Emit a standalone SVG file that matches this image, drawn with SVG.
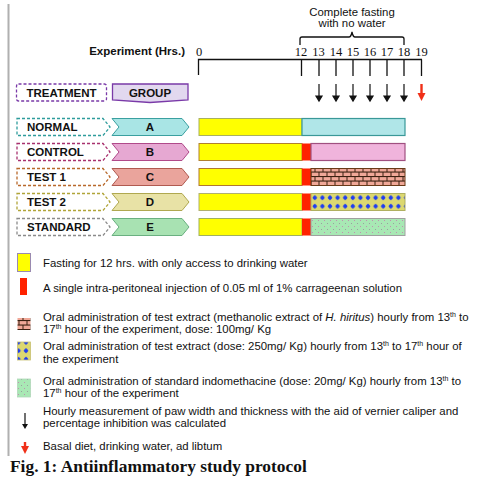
<svg xmlns="http://www.w3.org/2000/svg" width="481" height="484" viewBox="0 0 481 484">
<style>
.sans{font-family:"Liberation Sans",Arial,sans-serif;fill:#111}
.lbl{font-family:"Liberation Sans",Arial,sans-serif;font-weight:bold;font-size:11.5px;fill:#111}
.num{font-family:"Liberation Serif","Times New Roman",serif;font-size:12.5px;fill:#111;text-anchor:middle}
.leg{font-family:"Liberation Sans",Arial,sans-serif;font-size:11.4px;fill:#111}
.tl{stroke:#111;stroke-width:1.3;fill:none}
.dash{fill:#fff;stroke-width:1.3;stroke-dasharray:3,2}
</style>
<defs>
<pattern id="brick" width="8" height="9" patternUnits="userSpaceOnUse" x="311" y="118">
<rect width="8" height="9" fill="#3a2010"/>
<rect x="0.5" y="0.6" width="7" height="3.4" fill="#f0a898"/>
<rect x="-3.5" y="5.1" width="7" height="3.4" fill="#f0a898"/>
<rect x="4.5" y="5.1" width="7" height="3.4" fill="#f0a898"/>
</pattern>
<pattern id="dots" width="7.6" height="8.5" patternUnits="userSpaceOnUse" x="311" y="193.5">
<rect width="7.6" height="8.5" fill="#dcd870"/>
<path d="M3.8,1.6 L6.2,4.2 L3.8,6.8 L1.4,4.2 Z" fill="#1e3cf0"/>
<circle cx="3.8" cy="4.2" r="1.8" fill="#1e3cf0"/>
</pattern>
<pattern id="speck" width="6" height="6" patternUnits="userSpaceOnUse" x="311" y="219">
<rect width="6" height="6" fill="#a8e8b4"/>
<rect x="1" y="1" width="1" height="1" fill="#c090b0"/>
<rect x="4" y="4" width="1" height="1" fill="#9aa0a0"/>
</pattern>
</defs>

<line x1="8.5" y1="4" x2="8.5" y2="456" stroke="#b0b0b0" stroke-width="2"/>

<g id="header">
<text class="sans" x="352" y="16" font-size="11.4" text-anchor="middle">Complete fasting</text>
<text class="sans" x="352" y="27" font-size="11.4" text-anchor="middle">with no water</text>
<path d="M300,45 V39 Q300,37 302,37 H349 Q351,37 352,32 Q353,37 355,37 H402 Q404,37 404,39 V45" class="tl" stroke-width="1.2"/>
<text class="lbl" x="185" y="55" text-anchor="end">Experiment (Hrs.)</text>
<text class="num" x="199" y="56">0</text>
<text class="num" x="301" y="56">12</text>
<text class="num" x="318.5" y="56">13</text>
<text class="num" x="336" y="56">14</text>
<text class="num" x="353" y="56">15</text>
<text class="num" x="370" y="56">16</text>
<text class="num" x="387" y="56">17</text>
<text class="num" x="404" y="56">18</text>
<text class="num" x="421.5" y="56">19</text>
</g>

<g id="connectors">
<path class="tl" d="M198.5,75 V59.5 H422 M301.5,59.5 V76 M319,59.5 V76 M336,59.5 V76 M353,59.5 V76 M370,59.5 V76 M387,59.5 V76 M404,59.5 V76 M421.5,59.5 V76"/>
<g stroke="#111" stroke-width="1.2" fill="#111">
<line x1="319" y1="84" x2="319" y2="97"/><path d="M316,96 L322,96 L319,101 Z"/>
<line x1="336" y1="84" x2="336" y2="97"/><path d="M333,96 L339,96 L336,101 Z"/>
<line x1="353" y1="84" x2="353" y2="97"/><path d="M350,96 L356,96 L353,101 Z"/>
<line x1="370" y1="84" x2="370" y2="97"/><path d="M367,96 L373,96 L370,101 Z"/>
<line x1="387" y1="84" x2="387" y2="97"/><path d="M384,96 L390,96 L387,101 Z"/>
<line x1="404" y1="84" x2="404" y2="97"/><path d="M401,96 L407,96 L404,101 Z"/>
</g>
<g stroke="#f03018" fill="#f03018">
<line x1="421.5" y1="84" x2="421.5" y2="94" stroke-width="2.4"/><path d="M417.5,93 L425.5,93 L421.5,101 Z" stroke="none"/>
</g>
</g>

<g id="treatment-header">
<rect x="16.5" y="84" width="90" height="17" rx="2" class="dash" stroke="#7a3aa8"/>
<text class="lbl" x="61.5" y="97" text-anchor="middle">TREATMENT</text>
</g>
<g id="group-header">
<path d="M112.5,84 H188 V100 L150,102.5 L112.5,100 Z" fill="#e2d8ef" stroke="#7a3aa8" stroke-width="1.3"/>
<text class="lbl" x="150" y="97" text-anchor="middle">GROUP</text>
</g>

<g id="row-normal">
<path d="M17,118.5 H103 L110,127 L103,135.5 H17 Z" class="dash" stroke="#2e9c9c"/>
<text class="lbl" x="27" y="131">NORMAL</text>
<path d="M112,118.5 H182 L189,127 L182,135.5 H112 L119,127 Z" fill="#a9e5e5" stroke="#3aa0a0" stroke-width="1"/>
<text class="lbl" x="150" y="131" text-anchor="middle">A</text>
<rect x="199" y="118.5" width="103" height="17" fill="#ffff00" stroke="#a8b060" stroke-width="1"/>
<rect x="302" y="118.5" width="103" height="17" fill="#b0e6e8" stroke="#3a9898" stroke-width="1.2"/>
</g>

<g id="row-control">
<path d="M17,143.5 H103 L110,152 L103,160.5 H17 Z" class="dash" stroke="#a8306e"/>
<text class="lbl" x="27" y="156">CONTROL</text>
<path d="M112,143.5 H182 L189,152 L182,160.5 H112 L119,152 Z" fill="#e6a8d2" stroke="#b04a8a" stroke-width="1"/>
<text class="lbl" x="150" y="156" text-anchor="middle">B</text>
<rect x="199" y="143.5" width="103" height="17" fill="#ffff00" stroke="#b08030" stroke-width="1"/>
<rect x="302" y="143.5" width="9" height="17" fill="#ff2200"/>
<rect x="311" y="143.5" width="94" height="17" fill="#f0b4dc" stroke="#a05080" stroke-width="1.2"/>
</g>

<g id="row-test1">
<path d="M17,168.5 H103 L110,177 L103,185.5 H17 Z" class="dash" stroke="#b8682a"/>
<text class="lbl" x="27" y="181">TEST 1</text>
<path d="M112,168.5 H182 L189,177 L182,185.5 H112 L119,177 Z" fill="#eaa49c" stroke="#b05a50" stroke-width="1"/>
<text class="lbl" x="150" y="181" text-anchor="middle">C</text>
<rect x="199" y="168.5" width="103" height="17" fill="#ffff00" stroke="#b07830" stroke-width="1"/>
<rect x="302" y="168.5" width="9" height="17" fill="#ff2200"/>
<rect x="311" y="168.5" width="94" height="17" fill="url(#brick)" stroke="#6a3a18" stroke-width="1"/>
</g>

<g id="row-test2">
<path d="M17,193.5 H103 L110,202 L103,210.5 H17 Z" class="dash" stroke="#b0a438"/>
<text class="lbl" x="27" y="206">TEST 2</text>
<path d="M112,193.5 H182 L189,202 L182,210.5 H112 L119,202 Z" fill="#e8e2a6" stroke="#b0a850" stroke-width="1"/>
<text class="lbl" x="150" y="206" text-anchor="middle">D</text>
<rect x="199" y="193.5" width="103" height="17" fill="#ffff00" stroke="#b0b070" stroke-width="1"/>
<rect x="302" y="193.5" width="9" height="17" fill="#ff2200"/>
<rect x="311" y="193.5" width="94" height="17" fill="url(#dots)" stroke="#b0b060" stroke-width="1"/>
</g>

<g id="row-standard">
<path d="M17,218.5 H103 L110,227 L103,235.5 H17 Z" class="dash" stroke="#8a8a8a"/>
<text class="lbl" x="27" y="231">STANDARD</text>
<path d="M112,218.5 H182 L189,227 L182,235.5 H112 L119,227 Z" fill="#a8e2b2" stroke="#6ab080" stroke-width="1"/>
<text class="lbl" x="150" y="231" text-anchor="middle">E</text>
<rect x="199" y="218.5" width="103" height="17" fill="#ffff00" stroke="#a0b060" stroke-width="1"/>
<rect x="302" y="218.5" width="9" height="17" fill="#ff2200"/>
<rect x="311" y="218.5" width="94" height="17" fill="url(#speck)" stroke="#a0a0a0" stroke-width="1"/>
</g>

<g id="legend">
<rect x="17.5" y="253.5" width="13" height="18" fill="#ffff00" stroke="#9a8ab0" stroke-width="1"/>
<text class="leg" x="43" y="267">Fasting for 12 hrs. with only access to drinking water</text>
<rect x="20" y="278" width="7" height="17" fill="#ff2200"/>
<text class="leg" x="43" y="292">A single intra-peritoneal injection of 0.05 ml of 1% carrageenan solution</text>
<rect x="17.5" y="318" width="13" height="12" fill="url(#brick)"/>
<text class="leg" x="43" y="321">Oral administration of test extract (methanolic extract of <tspan font-style="italic">H. hiritus</tspan>) hourly from 13<tspan font-size="7" dy="-4">th</tspan><tspan dy="4"> to</tspan></text>
<text class="leg" x="43" y="333">17<tspan font-size="7" dy="-4">th</tspan><tspan dy="4"> hour of the experiment, dose: 100mg/ Kg</tspan></text>
<rect x="17.5" y="342" width="13" height="18" fill="url(#dots)" stroke="#c8c070" stroke-width="0.8"/>
<text class="leg" x="43" y="350">Oral administration of test extract (dose: 250mg/ Kg) hourly from 13<tspan font-size="7" dy="-4">th</tspan><tspan dy="4"> to 17</tspan><tspan font-size="7" dy="-4">th</tspan><tspan dy="4"> hour of</tspan></text>
<text class="leg" x="43" y="363">the experiment</text>
<rect x="17.5" y="379" width="13" height="18" fill="url(#speck)" stroke="#b0d8b8" stroke-width="0.8"/>
<text class="leg" x="43" y="385">Oral administration of standard indomethacine (dose: 20mg/ Kg) hourly from 13<tspan font-size="7" dy="-4">th</tspan><tspan dy="4"> to</tspan></text>
<text class="leg" x="43" y="397">17<tspan font-size="7" dy="-4">th</tspan><tspan dy="4"> hour of the experiment</tspan></text>
<line x1="25" y1="413" x2="25" y2="425" stroke="#111" stroke-width="1.2"/>
<path d="M22,424 L28,424 L25,429 Z" fill="#111"/>
<text class="leg" x="43" y="415">Hourly measurement of paw width and thickness with the aid of vernier caliper and</text>
<text class="leg" x="43" y="427">percentage inhibition was calculated</text>
<line x1="25" y1="442" x2="25" y2="447" stroke="#f03018" stroke-width="2.4"/>
<path d="M21,446 L29,446 L25,454 Z" fill="#f03018"/>
<text class="leg" x="43" y="450">Basal diet, drinking water, ad libtum</text>
</g>

<text x="10" y="472" font-family="'Liberation Serif','Times New Roman',serif" font-weight="bold" font-size="17.4" fill="#111">Fig. 1: Antiinflammatory study protocol</text>
</svg>
